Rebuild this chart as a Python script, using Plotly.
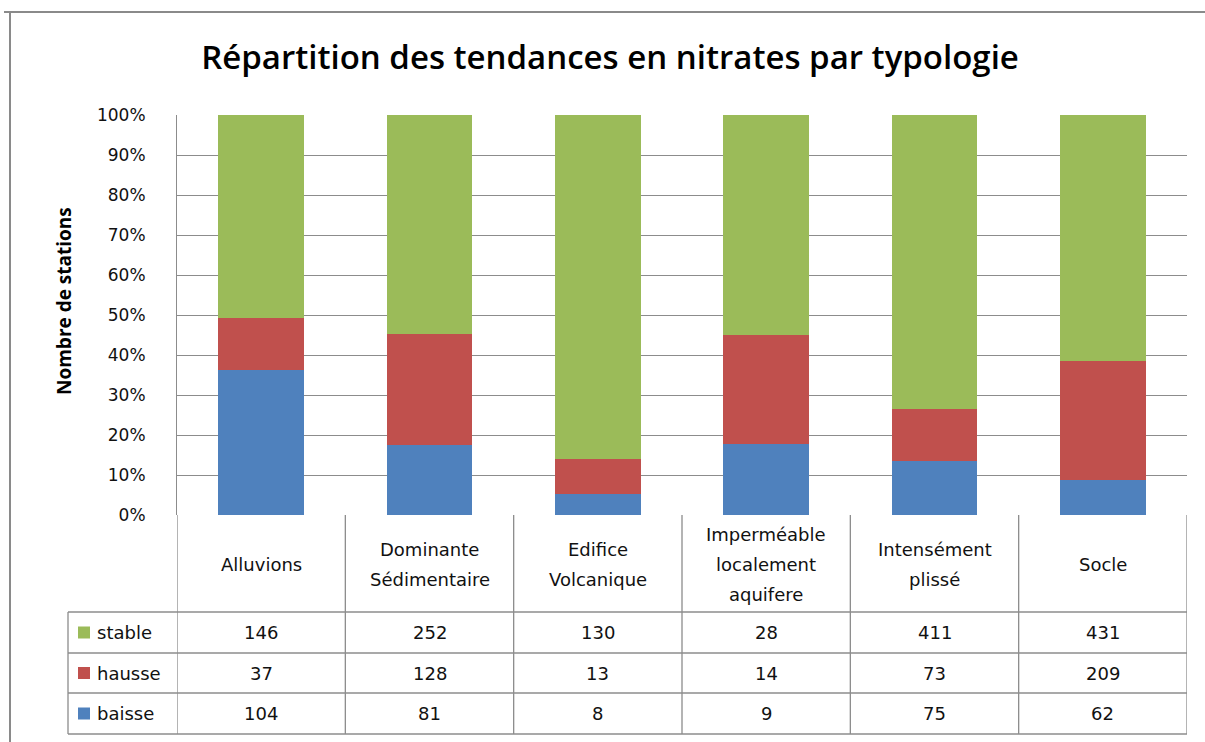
import plotly.graph_objects as go

# ---- data ----
categories = ["Alluvions", "Dominante Sédimentaire", "Edifice Volcanique",
              "Imperméable localement aquifere", "Intensément plissé", "Socle"]
header_lines = [["Alluvions"], ["Dominante", "Sédimentaire"], ["Edifice", "Volcanique"],
                ["Imperméable", "localement", "aquifere"], ["Intensément", "plissé"], ["Socle"]]
baisse = [104, 81, 8, 9, 75, 62]
hausse = [37, 128, 13, 14, 73, 209]
stable = [146, 252, 130, 28, 411, 431]
series_names = ["baisse", "hausse", "stable"]
series_values = [baisse, hausse, stable]
series_colors = ["#4F81BD", "#C0504D", "#9BBB59"]
y_ticks = [0, 10, 20, 30, 40, 50, 60, 70, 80, 90, 100]
tick_labels = ["0%", "10%", "20%", "30%", "40%", "50%", "60%", "70%", "80%", "90%", "100%"]

title_text = "Répartition des tendances en nitrates par typologie"
y_title = "Nombre de stations"

# ---- layout geometry (pixels) ----
W, H = 1205, 742
PL, PR, PT, PB = 177, 1187, 115, 515
TABLE_LEFT = 68
HEADER_BOTTOM = 612
ROW_LINES = [612, 653, 693, 734]
GRID = "#8c8c8c"
TXT = "#111111"
TFONT = "DejaVu Sans"
TSIZE = 18


def px(x):
    return (x - PL) / (PR - PL)


def py(y):
    return (PB - y) / (PB - PT)


fig = go.Figure()
for name, vals, col in zip(series_names, series_values, series_colors):
    fig.add_trace(go.Bar(x=categories, y=vals, name=name, marker=dict(color=col, line=dict(width=0))))

fig.update_layout(
    width=W, height=H,
    margin=dict(l=PL, r=W - PR, t=PT, b=H - PB, pad=0),
    barmode="stack", barnorm="percent", bargap=0.49,
    paper_bgcolor="white", plot_bgcolor="white",
    showlegend=False,
    title=dict(text=title_text, x=610 / W, xanchor="center", y=1 - 57 / H, yanchor="middle",
               xref="container", yref="container",
               font=dict(family="Open Sans", size=33, color="#000000", weight=600)),
)
fig.update_xaxes(showticklabels=False, showgrid=False, zeroline=False, showline=False,
                 range=[-0.5, len(categories) - 0.5])
fig.update_yaxes(range=[0, 100], tickvals=y_ticks, ticktext=tick_labels, showgrid=True,
                 gridcolor=GRID, gridwidth=1, zeroline=False, showline=True, linecolor=GRID,
                 linewidth=1, ticks="", ticklabelstandoff=27,
                 tickfont=dict(family=TFONT, size=17, color=TXT))

shapes = []
line = dict(color=GRID, width=1.3)
# table: column boundaries
for i in range(len(categories) + 1):
    shapes.append(dict(type="line", xref="x", yref="paper", x0=i - 0.5, x1=i - 0.5,
                       y0=py(PB), y1=py(ROW_LINES[-1]), line=line))
# table: row boundaries
for yy in ROW_LINES:
    shapes.append(dict(type="line", xref="paper", yref="paper", x0=px(TABLE_LEFT), x1=px(PR),
                       y0=py(yy), y1=py(yy), line=line))
shapes.append(dict(type="line", xref="paper", yref="paper", x0=px(TABLE_LEFT), x1=px(TABLE_LEFT),
                   y0=py(HEADER_BOTTOM), y1=py(ROW_LINES[-1]), line=line))
# chart frame
shapes.append(dict(type="line", xref="paper", yref="paper", x0=px(4), x1=px(W + 5),
                   y0=py(12), y1=py(12), line=dict(color="#8a8a8a", width=2)))
shapes.append(dict(type="line", xref="paper", yref="paper", x0=px(10), x1=px(10),
                   y0=py(12), y1=py(H + 5), line=dict(color="#8a8a8a", width=2)))

annotations = []
# header labels
header_mid = (PB + HEADER_BOTTOM) / 2 + 1
line_gap = 30
for i, lines in enumerate(header_lines):
    n = len(lines)
    for k, t in enumerate(lines):
        yy = header_mid + (k - (n - 1) / 2) * line_gap
        annotations.append(dict(text=t, x=i, xref="x", y=py(yy), yref="paper", showarrow=False,
                                xanchor="center", yanchor="middle",
                                font=dict(family=TFONT, size=TSIZE, color=TXT)))

# value rows (top row = last series)
row_order = list(range(len(series_names)))[::-1]
for r, s in enumerate(row_order):
    yc = (ROW_LINES[r] + ROW_LINES[r + 1]) / 2
    for i, v in enumerate(series_values[s]):
        annotations.append(dict(text=str(v), x=i, xref="x", y=py(yc), yref="paper", showarrow=False,
                                xanchor="center", yanchor="middle",
                                font=dict(family=TFONT, size=TSIZE, color=TXT)))
    # legend key + label
    shapes.append(dict(type="rect", xref="paper", yref="paper", x0=px(78), x1=px(90),
                       y0=py(yc - 6), y1=py(yc + 6), fillcolor=series_colors[s],
                       line=dict(width=0)))
    annotations.append(dict(text=series_names[s], x=px(95), xref="paper", y=py(yc), yref="paper",
                            showarrow=False, xanchor="left", yanchor="middle",
                            font=dict(family=TFONT, size=TSIZE, color=TXT)))

# y-axis title
annotations.append(dict(text=y_title, x=px(64), xref="paper", y=py(301), yref="paper",
                        showarrow=False, textangle=-90, xanchor="center", yanchor="middle",
                        font=dict(family="Open Sans", size=19, color="#000000", weight="bold")))

fig.update_layout(shapes=shapes, annotations=annotations)
fig.write_html("out.html")
